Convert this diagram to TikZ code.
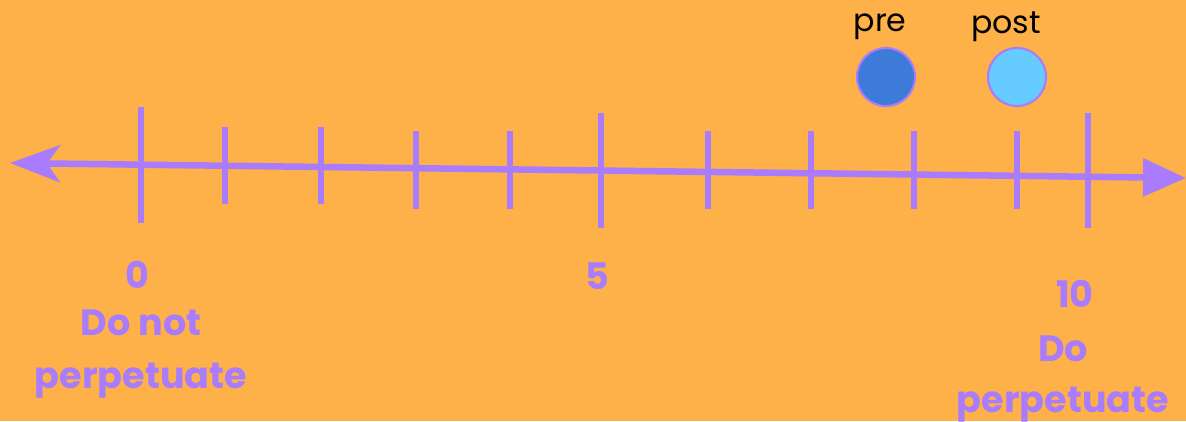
\documentclass[tikz,border=0pt]{standalone}
\usepackage{fontspec}
\setmainfont{Poppins}
\usetikzlibrary{arrows.meta}
\definecolor{bg}{HTML}{FDB148}
\definecolor{lilac}{HTML}{A97BFD}
\definecolor{preBlue}{HTML}{3C7BD8}
\definecolor{postBlue}{HTML}{66CCFF}
\tikzset{axisline/.style={draw=lilac,line width=0.065cm,
    {Stealth[length=0.5cm,width=0.37cm,inset=0.13cm]}-{Triangle[length=0.43cm,width=0.37cm]}},
  tickmark/.style={draw=lilac,line width=0.055cm},
  dot/.style={circle,draw=lilac,line width=0.6pt,minimum size=0.58cm,inner sep=0pt},
  tag/.style={font=\fontsize{9}{10}\selectfont,text=black,inner sep=0pt},
  lab/.style={font=\bfseries\fontsize{10.4}{15}\selectfont,text=lilac,inner sep=0pt,align=center}}

\begin{document}
\begin{tikzpicture}[x=0.01cm,y=-0.01cm]
  \fill[bg] (0,0) rectangle (1186,421);
  \useasboundingbox (0,0) rectangle (1186,421);
  % the scale
  \coordinate (axL) at (10,163);
  \coordinate (axR) at (1186,178);
  \foreach \x/\top/\bot in {141/107/223,225/127/204,321/127/204,416/131/209,510/131/209,
      601/113/228,708/131/209,811/131/209,914/131/209,1017/131/209,1088/113/228}
    \draw[tickmark] (\x,\top) -- (\x,\bot);
  \draw[axisline] (axL) -- (axR);
  % pre and post
  \node[dot,fill=preBlue] (preDot) at (886,77) {};
  \node[dot,fill=postBlue] (postDot) at (1017,77) {};
  \node[tag] (preTag) at (880,27) {pre};
  \node[tag] (postTag) at (1006,27) {post};
  % numbers and ends
  \node[lab] (zero) at (137,275) {0};
  \node[lab] (five) at (597,276) {5};
  \node[lab] (ten) at (1075,294) {10};
  \node[lab] (lowEnd) at (141,354) {Do not\\perpetuate};
  \node[lab] (highEnd) at (1063,379) {Do\\[-0.6pt]perpetuate};
\end{tikzpicture}
\end{document}
